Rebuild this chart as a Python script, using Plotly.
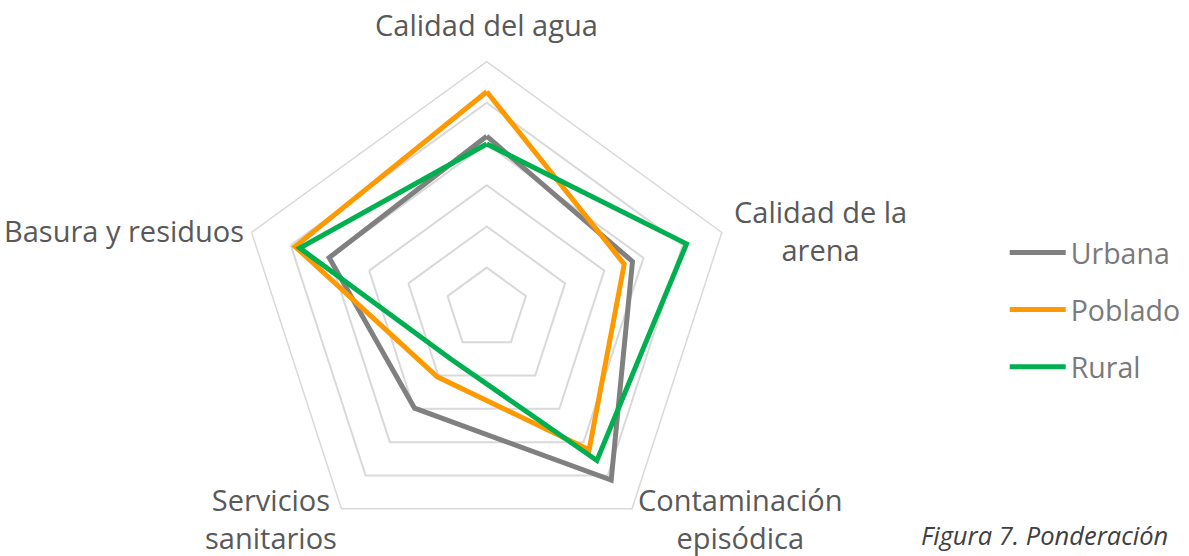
import plotly.graph_objects as go

categories = ["Calidad del agua", "Calidad de la arena", "Contaminación episódica",
              "Servicios sanitarios", "Basura y residuos"]
label_text = ["Calidad del agua", "Calidad de la<br>arena", "Contaminación<br>episódica",
              "Servicios<br>sanitarios", "Basura y residuos"]
series_names = ["Urbana", "Poblado", "Rural"]
urbana = [4.19, 3.72, 5.14, 2.98, 4.02]
poblado = [5.27, 3.51, 4.23, 2.04, 4.89]
rural = [4.00, 5.10, 4.55, 1.50, 4.77]
series_values = [urbana, poblado, rural]
colors = ["#808080", "#FF9900", "#00B050"]
radial_max = 6

fig = go.Figure()
for i, (name, vals, col) in enumerate(zip(series_names, series_values, colors)):
    fig.add_trace(go.Scatterpolar(
        r=vals + [vals[0]], theta=categories + [categories[0]],
        mode="lines", name=name, line=dict(color=col, width=5),
        legendgroup=name, hoverinfo="skip"))

font_family = "Open Sans, Segoe UI, sans-serif"
fig.update_layout(
    width=1189, height=556,
    margin=dict(l=0, r=0, t=0, b=0),
    paper_bgcolor="white", plot_bgcolor="white",
    showlegend=True,
    legend=dict(x=0.845, y=1 - 310 / 556, xanchor="left", yanchor="middle",
                font=dict(family=font_family, size=28.5, color="#7a7a7a"),
                traceorder="grouped", tracegroupgap=17, itemwidth=56,
                bgcolor="rgba(0,0,0,0)"),
    polar=dict(
        domain=dict(x=[0.2001, 0.6186], y=[0.0, 0.8892]),
        bgcolor="white",
        gridshape="linear",
        radialaxis=dict(range=[0, radial_max], dtick=1, showticklabels=False,
                        ticks="", showline=False, gridcolor="#D9D9D9", gridwidth=1.5),
        angularaxis=dict(rotation=90, direction="clockwise", showticklabels=False,
                         ticks="", showgrid=False, showline=True,
                         linecolor="#D9D9D9", linewidth=1.5),
    ),
)

label_pos = [(486, 25, "center"), (820, 230, "center"), (740, 518, "center"),
             (271, 518, "center"), (124, 230, "center")]
for txt, (x, y, al) in zip(label_text, label_pos):
    fig.add_annotation(text=txt, x=x / 1189, y=1 - y / 556, xref="paper", yref="paper",
                       showarrow=False, xanchor="center", yanchor="middle", align=al,
                       font=dict(family=font_family, size=29, color="#595959"))

fig.add_annotation(text="<i>Figura 7. Ponderación</i>", x=1170 / 1189, y=1 - 535 / 556,
                   xref="paper", yref="paper", showarrow=False, xanchor="right",
                   yanchor="middle",
                   font=dict(family=font_family, size=25.5, color="#404040"))

fig.write_html("out.html", config={"displayModeBar": False},
               post_script="document.body.style.margin='0';document.body.style.overflow='hidden';")
